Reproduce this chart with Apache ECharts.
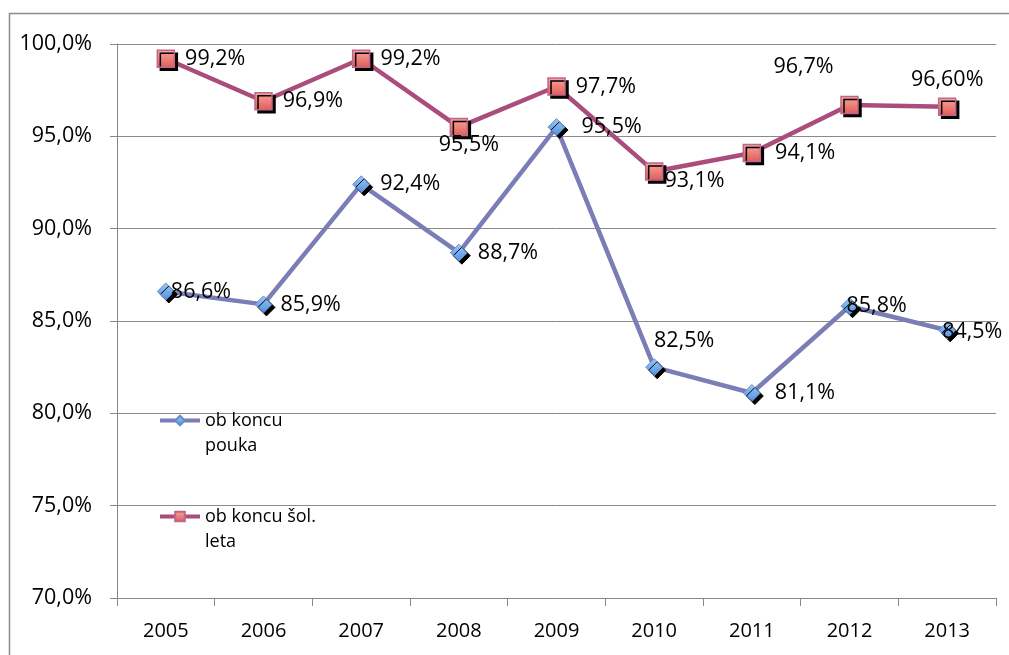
<!DOCTYPE html>
<html>
<head>
<meta charset="utf-8">
<script src="https://cdn.jsdelivr.net/npm/echarts@6/dist/echarts.min.js"></script>
<style>html,body{margin:0;padding:0;background:#fff}#c{width:1009px;height:655px}</style>
</head>
<body>
<div id="c"></div>
<script>
const categories = ['2005','2006','2007','2008','2009','2010','2011','2012','2013'];
const seriesNames = ['ob koncu pouka', 'ob koncu šol. leta'];
const legendText = [' \nob koncu\npouka', ' \nob koncu šol.\nleta'];
const pouka = [86.6, 85.9, 92.4, 88.7, 95.5, 82.5, 81.1, 85.8, 84.5];
const leto = [99.2, 96.9, 99.2, 95.5, 97.7, 93.1, 94.1, 96.7, 96.6];
const poukaLabels = ['86,6%','85,9%','92,4%','88,7%','95,5%','82,5%','81,1%','85,8%','84,5%'];
const letoLabels = ['99,2%','96,9%','99,2%','95,5%','97,7%','93,1%','94,1%','96,7%','96,60%'];
const yTicks = { min: 70, max: 100, step: 5 };

// label placement (style only)
const poukaPlace = [
  {position:'right', distance:10, offset:[-14,0]},
  {position:'right', distance:8},
  {position:'right', distance:10},
  {position:'right', distance:10},
  {position:'right', distance:16},
  {position:'top', distance:6, offset:[30,0]},
  {position:'right', distance:14},
  {position:'right', distance:10, offset:[-22,0]},
  {position:'right', distance:10, offset:[-24,2]}
];
const letoPlace = [
  {position:'right', distance:10},
  {position:'right', distance:10},
  {position:'right', distance:10},
  {position:'bottom', distance:0, offset:[10,-2]},
  {position:'right', distance:10},
  {position:'right', distance:10, offset:[-9,9]},
  {position:'right', distance:14},
  {position:'top', distance:8, offset:[-46,-10]},
  {position:'top', distance:7}
];

const FONT = 'Open Sans';
const fmt = v => v.toFixed(1).replace('.', ',') + '%';

function buildData(values, labels, place) {
  return values.map((v, i) => ({
    value: v,
    label: Object.assign({ show: true, formatter: labels[i] }, place[i])
  }));
}

const chart = echarts.init(document.getElementById('c'), null, { renderer: 'canvas' });
chart.setOption({
  animation: false,
  backgroundColor: '#ffffff',
  graphic: [
    { type: 'polyline', shape: { points: [[9.5, 660], [9.5, 13.5], [1015, 13.5]] },
      style: { stroke: '#8c8c8c', lineWidth: 1.5, fill: null }, silent: true }
  ],
  grid: { left: 117, right: 13, top: 44, bottom: 57, containLabel: false },
  legend: {
    orient: 'vertical',
    left: 153,
    top: 378,
    itemGap: 21,
    itemWidth: 40,
    itemHeight: 12,
    data: seriesNames,
    formatter: n => legendText[seriesNames.indexOf(n)],
    itemStyle: { shadowColor: 'rgba(0,0,0,0)', shadowOffsetX: 0, shadowOffsetY: 0 },
    lineStyle: { width: 4 },
    textStyle: { fontFamily: FONT, fontSize: 18, color: '#000', lineHeight: 25 }
  },
  xAxis: {
    type: 'category',
    data: categories,
    boundaryGap: true,
    axisLine: { show: true, lineStyle: { color: '#888', width: 1 } },
    axisTick: { show: true, length: 8, alignWithLabel: false, lineStyle: { color: '#888' } },
    axisLabel: { fontFamily: FONT, fontSize: 20, color: '#000', margin: 23 },
    splitLine: { show: false }
  },
  yAxis: {
    type: 'value',
    min: yTicks.min, max: yTicks.max, interval: yTicks.step,
    axisLine: { show: true, lineStyle: { color: '#888', width: 1 } },
    axisTick: { show: true, inside: false, length: 7, lineStyle: { color: '#888' } },
    axisLabel: { fontFamily: FONT, fontSize: 21.5, color: '#000', margin: 25, formatter: fmt },
    splitLine: { show: true, lineStyle: { color: '#8a8a8a', width: 1 } }
  },
  series: [
    {
      name: seriesNames[0],
      type: 'line',
      data: buildData(pouka, poukaLabels, poukaPlace),
      symbol: 'diamond',
      symbolSize: 17,
      lineStyle: { color: '#7B7DB6', width: 4.5 },
      itemStyle: {
        color: new echarts.graphic.LinearGradient(0, 0, 0, 1, [
          { offset: 0, color: '#9ECBF7' }, { offset: 1, color: '#4C8FDF' }
        ]),
        borderColor: '#6C8CC8', borderWidth: 1,
        shadowColor: '#000', shadowOffsetX: 3, shadowOffsetY: 3, shadowBlur: 0
      },
      label: { fontFamily: FONT, fontSize: 21.5, color: '#000' },
      z: 3
    },
    {
      name: seriesNames[1],
      type: 'line',
      data: buildData(leto, letoLabels, letoPlace),
      symbol: 'rect',
      symbolSize: 17,
      lineStyle: { color: '#AA4D7D', width: 4.5 },
      itemStyle: {
        color: new echarts.graphic.LinearGradient(0, 0, 0, 1, [
          { offset: 0, color: '#F8A8A0' }, { offset: 1, color: '#E05A56' }
        ]),
        borderColor: '#C0668C', borderWidth: 1.5,
        shadowColor: '#000', shadowOffsetX: 3, shadowOffsetY: 3, shadowBlur: 0
      },
      label: { fontFamily: FONT, fontSize: 21.5, color: '#000' },
      z: 3
    }
  ]
});
</script>
</body>
</html>
